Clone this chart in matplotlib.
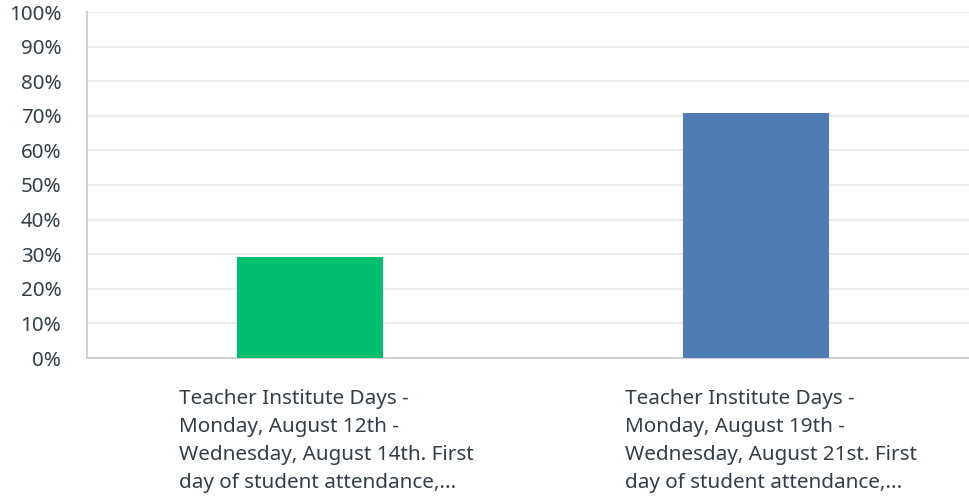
import matplotlib
matplotlib.use("Agg")
import matplotlib.pyplot as plt
import matplotlib.transforms as mtransforms

categories = [
    "Teacher Institute Days -\nMonday, August 12th -\nWednesday, August 14th. First\nday of student attendance,...",
    "Teacher Institute Days -\nMonday, August 19th -\nWednesday, August 21st. First\nday of student attendance,...",
]
values = [29.17, 70.83]
colors = ["#00BF6F", "#507CB6"]
yticks = [0, 10, 20, 30, 40, 50, 60, 70, 80, 90, 100]
ytick_labels = [f"{t}%" for t in yticks]

TEXT = "#333E48"
plt.rcParams["font.family"] = ["Noto Sans", "DejaVu Sans"]

fig = plt.figure(figsize=(9.7, 4.98), dpi=100)
ax = fig.add_axes([87 / 970, 1 - 358 / 498, 1 - 87 / 970, 346 / 498])

x = list(range(len(categories)))
ax.bar(x, values, width=0.327, color=colors, zorder=3)

ax.set_xlim(-0.5, 1.48)
ax.set_ylim(0, 100)
ax.set_yticks(yticks)
ax.set_yticklabels(ytick_labels, fontsize=14.8, color=TEXT)
ax.tick_params(axis="y", length=0, pad=18.5)
ax.set_xticks([])
ax.grid(axis="y", color="#EBEBEB", lw=1.4, zorder=0)

for side in ["top", "right"]:
    ax.spines[side].set_visible(False)
for side in ["left", "bottom"]:
    ax.spines[side].set_color("#D0D0D0")
    ax.spines[side].set_linewidth(1.4)

trans = mtransforms.blended_transform_factory(ax.transData, ax.transAxes)
for i, lab in enumerate(categories):
    ax.text(i - 0.294, -0.09, lab, transform=trans, ha="left", va="top",
            fontsize=14.9, color=TEXT, linespacing=1.54)

fig.savefig("out.png", dpi=100)
